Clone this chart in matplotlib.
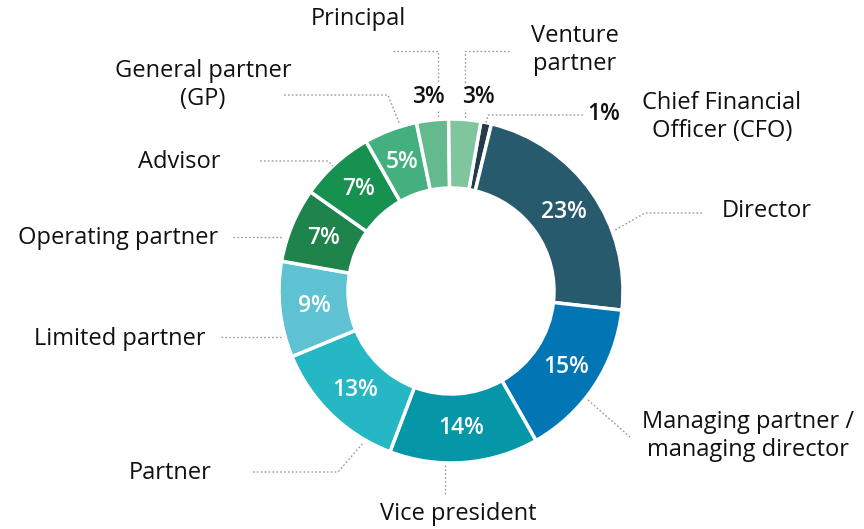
import matplotlib
matplotlib.use("Agg")
import matplotlib.pyplot as plt
import numpy as np

# ---- data ----
categories = ["Chief Financial\nOfficer (CFO)", "Director", "Managing partner /\nmanaging director",
              "Vice president", "Partner", "Limited partner", "Operating partner",
              "Advisor", "General partner\n(GP)", "Principal", "Venture\npartner"]
values = [1, 23, 15, 14, 13, 9, 7, 7, 5, 3, 3]
colors = ["#233b4b", "#285a6e", "#0276b4", "#0596a8", "#26b7c5", "#5ec2d3",
          "#1f844c", "#17914f", "#45b07f", "#64b98f", "#7fc59e"]

W, H = 864, 529
fig = plt.figure(figsize=(W / 100, H / 100), dpi=100)
ax = fig.add_axes([0, 0, 1, 1])

FONT = "Open Sans"
cx, cy = 451, H - 291
R = 172
width = 69

def Y(py):
    return H - py

wedges, _ = ax.pie(values, colors=colors, startangle=80, counterclock=False,
                   center=(cx, cy), radius=R,
                   wedgeprops=dict(width=width, edgecolor="white", linewidth=2.5))
ax.set_xlim(0, W)
ax.set_ylim(0, H)
ax.set_aspect("equal")
ax.axis("off")

# inner percentage labels
inside = [False, True, True, True, True, True, True, True, True, False, False]
rmid = R - width / 2
for w, v, ins in zip(wedges, values, inside):
    if not ins:
        continue
    ang = np.deg2rad((w.theta1 + w.theta2) / 2)
    ax.text(cx + rmid * np.cos(ang), cy + rmid * np.sin(ang), f"{v}%",
            ha="center", va="center", color="white", fontsize=16.5,
            fontweight="semibold", family=FONT)

# outside percentage labels
out_pct = [(9, 428, 97), (10, 478, 97), (0, 604, 114)]

lc = "#9a9a9a"
def leader(pts):
    xs = [p[0] for p in pts]
    ys = [Y(p[1]) for p in pts]
    ax.plot(xs, ys, color=lc, lw=1.0, ls=(0, (1.2, 1.6)), zorder=1)

# leader lines (pixel coords)
leader([(393, 51), (438, 51), (438, 118)])          # Principal
leader([(509, 51), (465, 51), (465, 118)])          # Venture
leader([(284, 95), (388, 95), (400, 125)])          # GP
leader([(583, 115), (488, 115), (486, 123)])        # CFO
leader([(702, 213), (645, 213), (615, 230)])        # Director
leader([(260, 161), (328, 161), (333, 166)])        # Advisor
leader([(233, 237), (283, 237)])                    # Operating
leader([(221, 337), (283, 337)])                    # Limited
leader([(253, 472), (338, 472), (363, 443)])        # Partner
leader([(445, 465), (445, 495)])                    # Vice president
leader([(588, 400), (630, 437)])                    # Managing

for idx, px, py in out_pct:
    ax.text(px, Y(py), f"{values[idx]}%", ha="center", va="center", color="#111111",
            fontsize=16.5, fontweight="semibold", family=FONT, zorder=3,
            bbox=dict(facecolor="white", edgecolor="none", pad=0.5))

# category labels: (index, x, y, ha)
label_pos = [
    (0, 722, 117, "center"),
    (1, 722, 211, "left"),
    (2, 748, 436, "center"),
    (3, 458, 514, "center"),
    (4, 170, 473, "center"),
    (5, 206, 339, "right"),
    (6, 218, 238, "right"),
    (7, 220, 162, "right"),
    (8, 203, 85, "center"),
    (9, 358, 19, "center"),
    (10, 575, 50, "center"),
]
for idx, px, py, ha in label_pos:
    ax.text(px, Y(py), categories[idx], ha=ha, va="center", color="#111111",
            fontsize=17, family=FONT, linespacing=1.25)

fig.savefig("out.png", dpi=100)
